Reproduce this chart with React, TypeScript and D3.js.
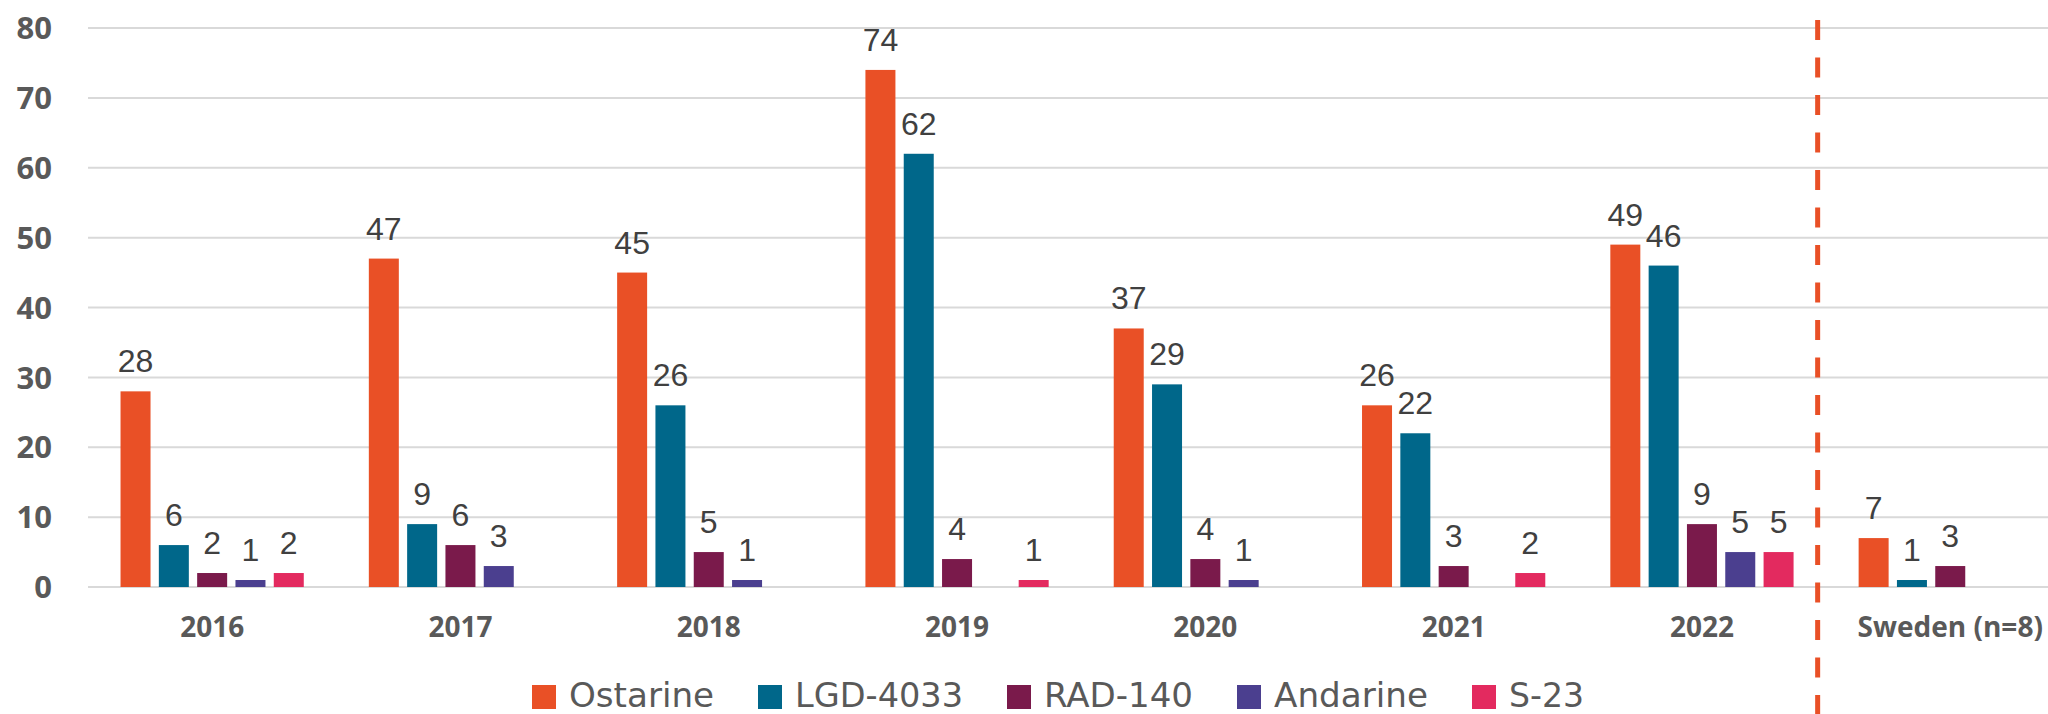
import React, { useEffect, useRef } from 'react';
import * as d3 from 'd3';

// categories on the x axis
const categories = ['2016', '2017', '2018', '2019', '2020', '2021', '2022', 'Sweden (n=8)'];

// one array per substance, null = no bar
const ostarine = [28, 47, 45, 74, 37, 26, 49, 7];
const lgd4033 = [6, 9, 26, 62, 29, 22, 46, 1];
const rad140 = [2, 6, 5, 4, 4, 3, 9, 3];
const andarine = [1, 3, 1, null, 1, null, 5, null];
const s23 = [2, null, null, 1, null, 2, 5, null];

const seriesNames = ['Ostarine', 'LGD-4033', 'RAD-140', 'Andarine', 'S-23'];
const seriesValues = [ostarine, lgd4033, rad140, andarine, s23];
const colors = ['#E95026', '#00678A', '#7A1A4B', '#4B3F8F', '#E32A5F'];

const yTicks = [0, 10, 20, 30, 40, 50, 60, 70, 80];

// legend label widths (condensed font in the original)
const legendWidths = [145, 168, 149, 154, 75];

const W = 2048;
const H = 714;

export default function App() {
  const ref = useRef<SVGSVGElement>(null);

  useEffect(() => {
    const svg = d3.select(ref.current);
    svg.selectAll('*').remove();

    const left = 88;
    const x = d3.scaleBand()
      .domain(categories)
      .range([left, left + 8 * 248.3])
      .paddingInner(0.262)
      .paddingOuter(0.131);

    const xs = d3.scaleBand()
      .domain(seriesNames)
      .range([0, x.bandwidth()])
      .paddingInner(0.217)
      .paddingOuter(0);

    const y = d3.scaleLinear().domain([0, 80]).range([587, 28]);

    // gridlines
    svg.append('g')
      .selectAll('line')
      .data(yTicks)
      .enter().append('line')
        .attr('x1', left)
        .attr('x2', W)
        .attr('y1', d => y(d))
        .attr('y2', d => y(d))
        .attr('stroke', '#D9D9D9')
        .attr('stroke-width', 2);

    // y tick labels
    svg.append('g')
      .selectAll('text')
      .data(yTicks)
      .enter().append('text')
        .attr('x', 52)
        .attr('y', d => y(d))
        .attr('dy', '0.36em')
        .attr('text-anchor', 'end')
        .style('font', '700 31px "Open Sans", sans-serif')
        .style('fill', '#595959')
        .text(d => d);

    // bars + value labels
    const rows: { cat: string; s: string; v: number; i: number }[] = [];
    categories.forEach((cat, ci) => {
      seriesNames.forEach((s, si) => {
        const v = seriesValues[si][ci];
        if (v != null) rows.push({ cat, s, v, i: si });
      });
    });

    const bar = svg.append('g')
      .selectAll('g')
      .data(rows)
      .enter().append('g')
        .attr('transform', d => 'translate(' + ((x(d.cat) as number) + (xs(d.s) as number)) + ',0)');

    bar.append('rect')
      .attr('x', 0)
      .attr('y', d => y(d.v))
      .attr('width', xs.bandwidth())
      .attr('height', d => y(0) - y(d.v))
      .style('fill', d => colors[d.i]);

    bar.append('text')
      .attr('x', xs.bandwidth() / 2)
      .attr('y', d => y(d.v) - 19)
      .attr('text-anchor', 'middle')
      .style('font', '32px "Liberation Sans", Arial, sans-serif')
      .style('fill', '#404040')
      .text(d => d.v);

    // category labels
    svg.append('g')
      .selectAll('text')
      .data(categories)
      .enter().append('text')
        .attr('x', d => (x(d) as number) + x.bandwidth() / 2)
        .attr('y', 637)
        .attr('text-anchor', 'middle')
        .style('font', '700 28px "Open Sans", sans-serif')
        .style('fill', '#595959')
        .text(d => d);

    // dashed separator before Sweden
    const sepX = (x('Sweden (n=8)') as number) - x.step() * 0.165;
    svg.append('line')
      .attr('x1', sepX)
      .attr('x2', sepX)
      .attr('y1', 20)
      .attr('y2', H)
      .attr('stroke', '#E95026')
      .attr('stroke-width', 5)
      .attr('stroke-dasharray', '20 17.5');

    // legend
    const lg = svg.append('g');
    let lx = 532;
    seriesNames.forEach((name, i) => {
      lg.append('rect')
        .attr('x', lx)
        .attr('y', 685)
        .attr('width', 24)
        .attr('height', 24)
        .style('fill', colors[i]);
      lg.append('text')
        .attr('x', lx + 37)
        .attr('y', 707)
        .attr('textLength', legendWidths[i])
        .attr('lengthAdjust', 'spacingAndGlyphs')
        .style('font', '33px "Liberation Sans Narrow", "DejaVu Sans Condensed", "Open Sans", sans-serif')
        .style('fill', '#595959')
        .text(name);
      lx += 37 + legendWidths[i] + 44;
    });
  }, []);

  return (
    <svg
      ref={ref}
      width={W}
      height={H}
      style={{ position: 'absolute', left: 0, top: 0, background: '#fff' }}
    />
  );
}
